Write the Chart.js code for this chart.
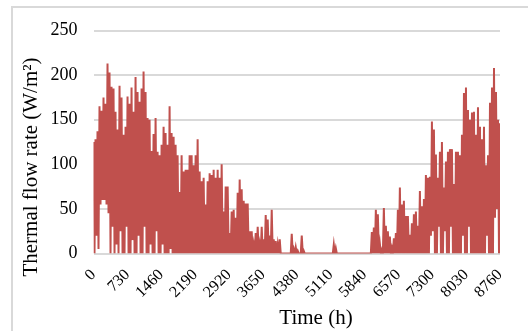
<!DOCTYPE html>
<html><head><meta charset="utf-8">
<script src="https://cdn.jsdelivr.net/npm/chart.js@4.4.0/dist/chart.umd.min.js"></script>
<style>html,body{margin:0;padding:0;background:#fff;}#wrap{position:relative;width:528px;height:331px;}</style>
</head><body><div id="wrap"><canvas id="c" width="528" height="331"></canvas></div>
<script>
// Envelope of hourly thermal flow rate (W/m2), one peak and one low reading per ~43 h column
const peakValues = [
125,128,137,165,160,175,168,213,203,187,
185,159,139,188,175,133,142,176,168,186,
159,198,181,170,185,204,181,152,150,115,
134,152,114,110,122,142,135,122,165,135,
131,122,110,69,110,92,94,94,110,110,
99,110,128,92,81,85,55,81,90,88,
94,85,94,85,100,47,75,75,23,47,
49,40,68,83,72,59,56,56,25,25,
10,23,30,10,30,16,43,38,20,49,
16,14,10,16,0,0,0,0,0,22,
5,7,3,0,20,3,0,0,0,0,
0,0,0,0,0,0,0,0,0,0,
10,6,0,0,0,0,0,0,0,0,
0,0,0,0,0,0,0,0,0,24,
29,49,44,11,4,51,31,25,19,6,
17,23,49,74,55,59,42,42,21,34,
44,47,31,70,53,61,88,85,86,148,
139,111,85,114,125,74,103,114,117,117,
78,114,114,110,133,180,186,161,150,158,
159,133,164,142,128,142,99,110,169,186,
208,181,150,146
];
const lowValues = [
0,20,5,55,60,60,55,45,0,30,
0,10,0,25,0,0,30,0,0,15,
0,0,20,0,0,30,0,0,10,0,
0,25,0,0,10,0,0,0,5,0,
0,0,0,0,0,0,0,0,0,0,
0,0,0,0,0,0,0,0,0,0,
0,0,0,0,0,0,0,0,0,0,
0,0,0,0,0,0,0,0,0,0,
0,0,0,0,0,0,0,0,0,0,
0,0,0,0,0,0,0,0,0,0,
0,0,0,0,0,0,0,0,0,0,
0,0,0,0,0,0,0,0,0,0,
0,0,0,0,0,0,0,0,0,0,
0,0,0,0,0,0,0,0,0,0,
0,0,0,0,0,0,0,0,0,0,
0,0,0,0,0,0,0,0,0,0,
0,0,0,0,0,0,0,0,20,25,
0,0,30,0,0,25,0,0,30,0,
0,0,0,0,20,0,0,30,0,0,
0,0,0,0,0,0,20,0,0,0,
40,50,0,0
];
const timeTicks = [0,730,1460,2190,2920,3650,4380,5110,5840,6570,7300,8030,8760];
const flowTicks = [0,50,100,150,200,250];
const yTitle = 'Thermal flow rate (W/m²)';
const xTitle = 'Time (h)';

const HOURS = timeTicks[timeTicks.length-1];
const colStep = HOURS / (peakValues.length - 1);
const points = [];
peakValues.forEach((p, i) => {
  const x = i * colStep;
  points.push({x: x, y: p});
  if (i < peakValues.length - 1) points.push({x: x + colStep / 2, y: lowValues[i]});
});

const FONT = '"Liberation Serif", "Times New Roman", serif';

const decor = {
  id: 'decor',
  beforeDraw(chart) {
    const ctx = chart.ctx;
    ctx.save();
    ctx.fillStyle = '#fff';
    ctx.fillRect(0, 0, chart.width, chart.height);
    ctx.strokeStyle = '#d9d9d9';
    ctx.lineWidth = 2;
    ctx.beginPath();
    ctx.moveTo(12, chart.height);
    ctx.lineTo(12, 7);
    ctx.lineTo(chart.width, 7);
    ctx.stroke();
    ctx.restore();
  },
  afterDraw(chart) {
    const ctx = chart.ctx;
    ctx.save();
    ctx.fillStyle = '#000';
    ctx.font = '21px ' + FONT;
    ctx.textAlign = 'center';
    ctx.textBaseline = 'middle';
    ctx.translate(31, 167);
    ctx.rotate(-Math.PI / 2);
    ctx.fillText(yTitle, 0, 0);
    ctx.restore();
    ctx.save();
    ctx.fillStyle = '#000';
    ctx.font = '21px ' + FONT;
    ctx.textAlign = 'center';
    ctx.textBaseline = 'middle';
    ctx.fillText(xTitle, 316, 318);
    ctx.restore();
  }
};

new Chart(document.getElementById('c'), {
  type: 'line',
  data: {
    datasets: [{
      data: points,
      borderColor: '#C0504D',
      borderWidth: 2,
      pointRadius: 0,
      tension: 0,
      fill: false
    }]
  },
  options: {
    responsive: false,
    animation: false,
    devicePixelRatio: 1,
    parsing: false,
    layout: { padding: { left: 12, right: 28, top: 30.5, bottom: 0 } },
    plugins: { legend: { display: false }, tooltip: { enabled: false } },
    scales: {
      x: {
        type: 'linear',
        min: 0, max: HOURS,
        afterBuildTicks: s => { s.ticks = timeTicks.map(v => ({value: v})); },
        afterFit: s => { s.height = 77.5; },
        grid: { display: false, drawTicks: false },
        border: { display: false },
        ticks: {
          minRotation: 45, maxRotation: 45, autoSkip: false, padding: 12,
          color: '#000', font: { family: FONT, size: 16 },
          callback: v => String(v)
        }
      },
      y: {
        min: 0, max: 250,
        afterBuildTicks: s => { s.ticks = flowTicks.map(v => ({value: v})); },
        afterFit: s => { s.width = 81.5; },
        grid: { color: '#d9d9d9', lineWidth: 2, drawTicks: false },
        border: { display: false },
        ticks: { padding: 16, color: '#000', font: { family: FONT, size: 18 } }
      }
    }
  },
  plugins: [decor]
});
</script></body></html>
